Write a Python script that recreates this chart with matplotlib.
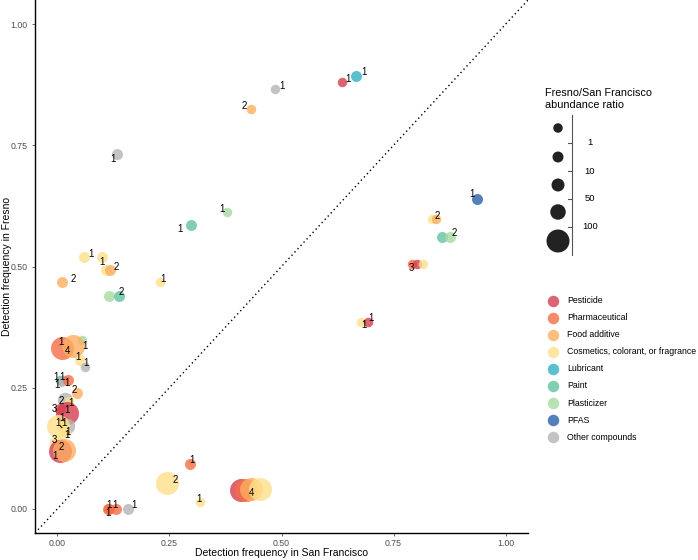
import numpy as np
import matplotlib
matplotlib.use("Agg")
import matplotlib.pyplot as plt

plt.rcParams['font.family'] = ['Liberation Sans', 'DejaVu Sans']

categories = ["Pesticide", "Pharmaceutical", "Food additive",
              "Cosmetics, colorant, or fragrance", "Lubricant", "Paint",
              "Plasticizer", "PFAS", "Other compounds"]
colors = ["#D53E4F", "#F46D43", "#FDAE61", "#FEE08B", "#32B0C3",
          "#62C2A2", "#A6DBA0", "#2A5FAA", "#B5B5B5"]

# category index, detection freq SF, detection freq Fresno, abundance ratio, count label
cat = [8, 2, 8, 0, 4, 6, 5, 7, 3, 3, 3, 2, 2, 3, 6, 5,
       6, 1, 2, 3, 8, 5, 8, 8, 1, 2, 8, 3, 0, 0, 0, 8, 3, 3, 3, 3, 0, 2,
       1, 3, 0, 1, 2, 3, 3, 1, 1, 1, 8,
       3, 2, 5, 6, 1, 0, 3, 3, 0]
sf = [0.133, 0.433, 0.485, 0.634, 0.667, 0.379, 0.297, 0.936, 0.060, 0.100, 0.108, 0.118, 0.010, 0.229, 0.114, 0.138,
      0.055, 0.010, 0.034, 0.051, 0.062, 0.005, 0.014, 0.008, 0.023, 0.044, 0.018, 0.025, 0.005, 0.021, 0.012, 0.021, 0.001, 0.007, 0.018, 0.000, 0.005, 0.014,
      0.296, 0.244, 0.410, 0.420, 0.433, 0.451, 0.318, 0.112, 0.114, 0.131, 0.157,
      0.836, 0.844, 0.858, 0.877, 0.792, 0.803, 0.816, 0.677, 0.692]
fresno = [0.733, 0.826, 0.866, 0.880, 0.893, 0.613, 0.586, 0.639, 0.520, 0.520, 0.493, 0.493, 0.467, 0.467, 0.440, 0.440,
          0.348, 0.331, 0.335, 0.307, 0.293, 0.266, 0.266, 0.262, 0.266, 0.238, 0.225, 0.222, 0.205, 0.197, 0.180, 0.170, 0.170, 0.170, 0.158, 0.135, 0.120, 0.122,
          0.093, 0.053, 0.039, 0.039, 0.040, 0.040, 0.014, 0.000, 0.000, 0.000, 0.000,
          0.599, 0.599, 0.560, 0.560, 0.506, 0.506, 0.506, 0.386, 0.386]
ratio = [5, 0.5, 0.5, 0.5, 5, 0.5, 5, 5, 5, 5, 5, 5, 5, 0.5, 5, 5,
         0.5, 200, 200, 5, 0.5, 0.5, 0.5, 0.5, 5, 5, 70, 0.5, 5, 200, 0.5, 70, 200, 0.5, 5, 70, 200, 200,
         5, 200, 200, 200, 200, 200, 0.5, 5, 5, 5, 5,
         0.5, 0.5, 5, 5, 0.5, 0.5, 0.5, 0.5, 0.5]
counts = ["1", "2", "1", "1", "1", "1", "1", "1", "1", "1", "", "2", "2", "1", "", "2",
          "1", "1", "4", "1", "1", "1", "1", "1", "1", "2", "2", "1", "3", "1", "1", "1", "1", "1", "1", "3", "1", "2",
          "1", "2", "", "", "4", "", "1", "1", "1", "1", "1",
          "", "2", "", "2", "3", "", "", "1", "1"]

# label offsets (pixels) mimicking the repelled labels
label_offsets = [(-4, -5), (-7, 3), (7, 3), (6, 3), (8, 4), (-5, 3), (-11, -4), (-5, 5), (7, 3), (0, -5), (0, 0), (6, 3), (11, 3), (3, 3), (0, 0), (2, 4),
                 (3, -6), (-1, 6), (-5, -5), (-2, 3), (1, 4), (-4, 3), (-2, 3), (-4, -3), (-1, -3), (-3, 3), (-4, -1), (2, -2), (-5, 0), (0, 3), (-1, 4), (-3, 3), (0, 3), (7, -6), (2, -3), (-3, 3), (-5, -5), (-2, 3),
                 (2, 4), (8, 3), (0, 0), (0, 0), (0, -4), (0, 0), (-1, 3), (0, -4), (0, 4), (-1, 4), (6, 4),
                 (0, 0), (2, 3), (0, 0), (4, 4), (-1, -4), (0, 0), (0, 0), (3, -3), (3, 4)]

size_breaks = [1, 10, 50, 100]
size_diam_px = [9.5, 11, 13, 15.5, 23]


def marker_area(diam_px):
    return (np.asarray(diam_px) * 0.72) ** 2


fig = plt.figure(figsize=(6.98, 5.6), dpi=100)
ax = fig.add_axes([35 / 698, 27 / 560, 493 / 698, 533 / 560])

ax.plot([-0.05, 1.05], [-0.05, 1.05], color="black", lw=1.0, ls=(0, (1, 2.2)), zorder=1)

diam = np.array(size_diam_px)[np.digitize(ratio, size_breaks)]
point_colors = [colors[c] for c in cat]
for i in range(len(sf)):
    ax.scatter(sf[i], fresno[i], s=marker_area(diam[i]), color=point_colors[i],
               alpha=0.8, linewidths=0, zorder=2)

for i in range(len(sf)):
    if counts[i] == "":
        continue
    dx, dy = label_offsets[i]
    kw = {}
    if i == 33:
        kw["arrowprops"] = dict(arrowstyle="-", color="black", lw=0.8, shrinkA=0, shrinkB=0)
    ax.annotate(counts[i], (sf[i], fresno[i]), xytext=(dx, dy), textcoords="offset pixels",
                ha="center", va="center", fontsize=7, color="black", zorder=3, **kw)

ax.set_xlim(-0.05, 1.05)
ax.set_ylim(-0.05, 1.05)
ticks = [0, 0.25, 0.5, 0.75, 1.0]
ax.set_xticks(ticks)
ax.set_yticks(ticks)
ax.set_xticklabels(["0.00", "0.25", "0.50", "0.75", "1.00"])
ax.set_yticklabels(["0.00", "0.25", "0.50", "0.75", "1.00"])
ax.tick_params(labelsize=6.3, colors="#4D4D4D", length=2.5, width=0.6, pad=3)
ax.tick_params(axis="x", pad=1.5)
for side in ["top", "right"]:
    ax.spines[side].set_visible(False)
for side in ["left", "bottom"]:
    ax.spines[side].set_linewidth(1.0)
ax.set_xlabel("Detection frequency in San Francisco", fontsize=7.5)
ax.set_ylabel("Detection frequency in Fresno", fontsize=7.5)
ax.xaxis.set_label_coords(0.5, -15 / 533)
ax.yaxis.set_label_coords(-23 / 493, 0.5)

# legends drawn on an overlay in pixel coordinates
lax = fig.add_axes([530 / 698, 0, 168 / 698, 1])
lax.set_xlim(530, 698)
lax.set_ylim(560, 0)
lax.axis("off")

lax.text(545, 99, "Fresno/San Francisco\nabundance ratio", fontsize=7.8,
         ha="left", va="center", linespacing=1.25)
y_sizes = [128, 157, 185, 212, 241]
lax.scatter([558] * len(size_diam_px), y_sizes, s=marker_area(size_diam_px), color="#222222",
            linewidths=0)
lax.plot([572, 572], [115, 255], color="#555555", lw=0.8)
for k, b in enumerate(size_breaks):
    yb = (y_sizes[k] + y_sizes[k + 1]) / 2
    lax.plot([568, 572], [yb, yb], color="#555555", lw=0.8)
    lax.text(590, yb, str(b), fontsize=6.8, ha="center", va="center")

for k, name in enumerate(categories):
    yk = 300.5 + k * 17.1
    lax.scatter(553, yk, s=marker_area(11.5), color=colors[k], alpha=0.8, linewidths=0)
    lax.text(567, yk, name, fontsize=6.3, ha="left", va="center")

fig.savefig("out.png", dpi=100)
